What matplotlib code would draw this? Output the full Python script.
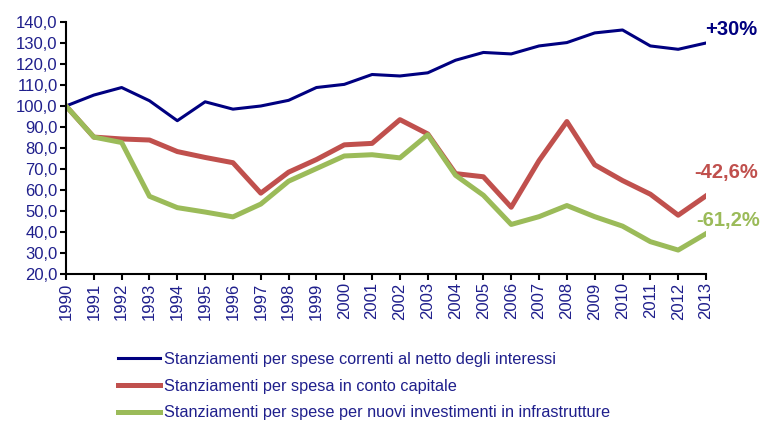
import matplotlib
matplotlib.use("Agg")
import matplotlib.pyplot as plt

years = list(range(1990, 2014))
correnti = [100, 105.2, 108.8, 102.5, 93.0, 102.0, 98.5, 100.0, 102.7, 108.8, 110.3, 115.0,
            114.3, 115.8, 121.8, 125.5, 124.8, 128.6, 130.2, 134.8, 136.2, 128.6, 127.0, 130.0]
capitale = [100, 85.2, 84.3, 83.8, 78.3, 75.5, 73.0, 58.5, 68.5, 74.5, 81.5, 82.2,
            93.5, 86.7, 67.8, 66.3, 51.8, 74.0, 92.6, 72.0, 64.5, 58.0, 48.0, 57.2]
infrastrutture = [100, 85.2, 82.6, 57.0, 51.6, 49.5, 47.2, 53.3, 64.2, 70.2, 76.2, 76.8,
                  75.3, 86.3, 67.0, 57.5, 43.6, 47.3, 52.6, 47.3, 42.8, 35.4, 31.4, 39.2]
labels = ["Stanziamenti per spese correnti al netto degli interessi",
          "Stanziamenti per spesa in conto capitale",
          "Stanziamenti per spese per nuovi investimenti in infrastrutture"]
end_labels = ["+30%", "-42,6%", "-61,2%"]
yticks = [20, 30, 40, 50, 60, 70, 80, 90, 100, 110, 120, 130, 140]

navy = "#000080"
txt = "#1F1F8C"
red = "#C0504D"
green = "#9BBB59"

plt.rcParams['font.family'] = ['Liberation Sans', 'DejaVu Sans']

fig = plt.figure(figsize=(7.61, 4.21), dpi=100)
ax = fig.add_axes([66/761, 1-274/421, 640/761, 252/421])

l1, = ax.plot(years, correnti, color=navy, lw=2.2)
l2, = ax.plot(years, capitale, color=red, lw=3.6)
l3, = ax.plot(years, infrastrutture, color=green, lw=3.6)

ax.set_xlim(1990, 2013)
ax.set_ylim(20, 140)
ax.set_yticks(yticks)
ax.set_yticklabels([f"{v:.1f}".replace(".", ",") for v in yticks])
ax.set_xticks(years)
ax.set_xticklabels([str(y) for y in years], rotation=90)
ax.tick_params(axis='both', colors='black', labelcolor=txt, labelsize=12, direction='out',
               length=4, width=1.5, pad=2)
for s in ['top', 'right']:
    ax.spines[s].set_visible(False)
for s in ['left', 'bottom']:
    ax.spines[s].set_linewidth(1.5)

ax.annotate(end_labels[0], xy=(2013, correnti[-1]), xytext=(-0.5, 10), textcoords='offset points',
            color=navy, fontsize=14.5, fontweight='bold', va='center', ha='left',
            annotation_clip=False)
ax.annotate(end_labels[1], xy=(2013, capitale[-1]), xytext=(-8.5, 16.5), textcoords='offset points',
            color=red, fontsize=14.5, fontweight='bold', va='center', ha='left',
            annotation_clip=False)
ax.annotate(end_labels[2], xy=(2013, infrastrutture[-1]), xytext=(-7, 9.5), textcoords='offset points',
            color=green, fontsize=14.5, fontweight='bold', va='center', ha='left',
            annotation_clip=False)

leg = fig.legend([l1, l2, l3], labels, loc='upper left', bbox_to_anchor=(118/761, 1-352/421),
                 frameon=False, fontsize=11.7, handlelength=2.6, handletextpad=0.25,
                 labelspacing=0.72, borderaxespad=0, borderpad=0)
for t in leg.get_texts():
    t.set_color(txt)

fig.savefig("out.png", dpi=100)
